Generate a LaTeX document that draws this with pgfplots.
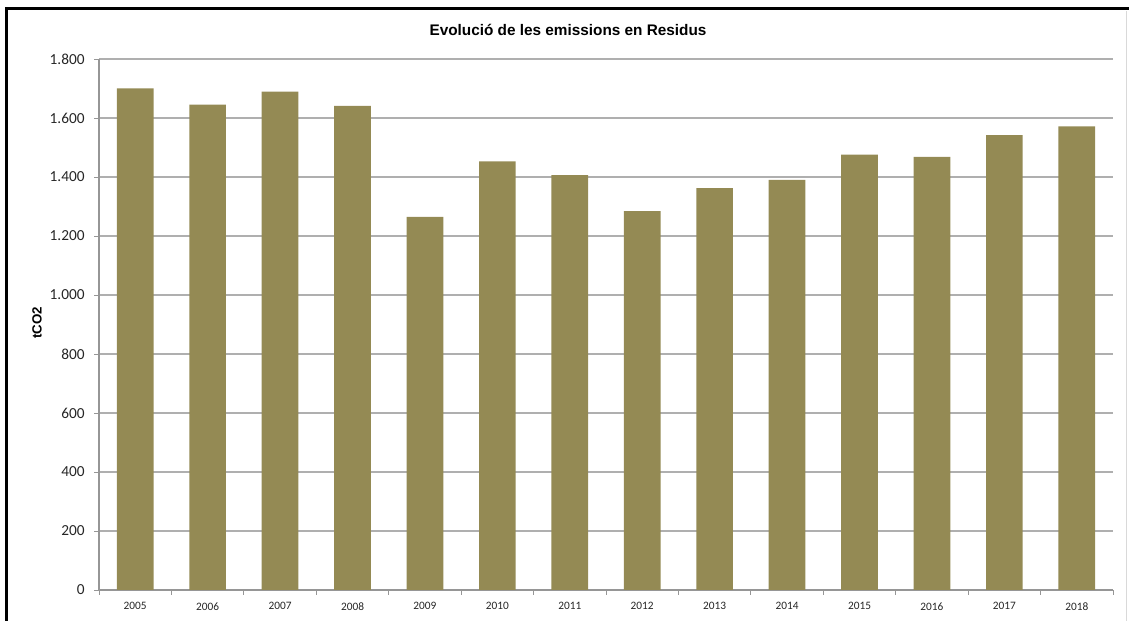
\documentclass[border=0pt]{standalone}
\usepackage{pgfplots}
\pgfplotsset{compat=1.18}
\usepackage{fontspec}
\setmainfont{Carlito}
\newfontfamily\arialfont{Liberation Sans}
\definecolor{barolive}{RGB}{148,138,84}
\definecolor{gridgray}{RGB}{175,175,175}
\definecolor{axisgray}{RGB}{150,150,150}

\begin{document}
\begin{tikzpicture}[x=0.75pt,y=0.75pt]
\useasboundingbox (0,0) rectangle (1129,621);
% frame of the screenshot (top and left only)
\draw[line width=2.25pt] (6.5,0) -- (6.5,612) -- (1129,612);
\draw[black!15, line width=0.75pt] (1126,0) -- (1126,610);
\node[font=\arialfont\bfseries\fontsize{11.5}{13}\selectfont] at (568,591) {Evolució de les emissions en Residus};
\node[rotate=90, font=\arialfont\bfseries\fontsize{10}{12}\selectfont] at (37,298) {tCO2};
\begin{axis}[
    at={(74.25pt,23.25pt)}, anchor=south west,
    scale only axis,
    width=760.5pt, height=398.25pt,
    xmin=-0.5, xmax=13.5,
    ymin=0, ymax=1800,
    axis x line*=bottom, axis y line*=left,
    axis line style={-, axisgray, line width=0.8pt},
    tick align=outside,
    major tick length=3.75pt,
    tick style={axisgray, line width=0.6pt},
    xtick={-0.5,0.5,...,13.5},
    x tick label as interval,
    xticklabels={2005,2006,2007,2008,2009,2010,2011,2012,2013,2014,2015,2016,2017,2018},
    xticklabel style={font=\fontsize{8.5}{10}\selectfont, text=black!85, yshift=-2pt},
    ytick={0,200,...,1800},
    yticklabel style={font=\fontsize{11.5}{13}\selectfont, text=black!85, xshift=-3.5pt},
    /pgf/number format/.cd, 1000 sep={.}, assume math mode=true,
    /pgfplots/.cd,
    ymajorgrids,
    grid style={gridgray, line width=0.9pt},
    ybar, bar width=27.5pt,
    ]
    \addplot[fill=barolive, draw=none] coordinates {
        (0,1700) (1,1645) (2,1689) (3,1641) (4,1265) (5,1453) (6,1406)
        (7,1284) (8,1362) (9,1390) (10,1476) (11,1468) (12,1542) (13,1572)
    };
\end{axis}
\end{tikzpicture}
\end{document}
